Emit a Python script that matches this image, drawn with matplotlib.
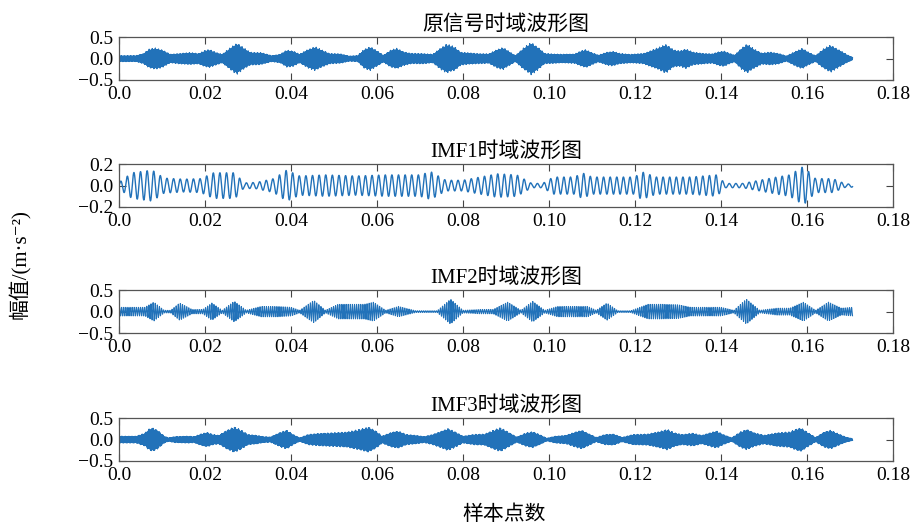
import numpy as np
import matplotlib
matplotlib.use('Agg')
import matplotlib.pyplot as plt

plt.rcParams.update({
    'font.family': ['Liberation Serif', 'Noto Sans CJK SC', 'DejaVu Serif'],
    'axes.unicode_minus': True,
})

# envelope key points (time in s, amplitude in m/s^2)
orig_t = [0.0, 0.004, 0.0057, 0.0070, 0.0084, 0.0100, 0.0119, 0.0140, 0.0165,
          0.0185, 0.0200, 0.0210, 0.0225, 0.0240, 0.0258, 0.0274, 0.0290, 0.0305,
          0.0330, 0.0355, 0.0375, 0.0390, 0.0405, 0.0420, 0.0440, 0.0456, 0.0472,
          0.0490, 0.0515, 0.0535, 0.0555, 0.0570, 0.0584, 0.0600, 0.0615, 0.0632,
          0.0646, 0.0662, 0.0680, 0.0705, 0.0730, 0.0748, 0.0762, 0.0780, 0.0795,
          0.0830, 0.0860, 0.0880, 0.0893, 0.0908, 0.0922, 0.0942, 0.0959, 0.0975,
          0.0990, 0.1030, 0.1060, 0.1075, 0.1086, 0.1100, 0.1115, 0.1135, 0.1148,
          0.1165, 0.1190, 0.1220, 0.1255, 0.1272, 0.1290, 0.1305, 0.1318, 0.1335,
          0.1360, 0.1380, 0.1395, 0.1407, 0.1420, 0.1432, 0.1448, 0.1461, 0.1478,
          0.1495, 0.1515, 0.1535, 0.1552, 0.1575, 0.1589, 0.1605, 0.1620, 0.1640,
          0.1655, 0.1675, 0.1695, 0.1706]
orig_a = [0.07, 0.07, 0.12, 0.22, 0.25, 0.21, 0.10, 0.12, 0.14, 0.12, 0.19, 0.21,
          0.15, 0.10, 0.25, 0.37, 0.25, 0.15, 0.14, 0.07, 0.10, 0.20, 0.18, 0.10,
          0.22, 0.28, 0.20, 0.12, 0.11, 0.06, 0.07, 0.22, 0.28, 0.18, 0.08, 0.20,
          0.24, 0.16, 0.12, 0.12, 0.10, 0.25, 0.34, 0.28, 0.15, 0.12, 0.11, 0.22,
          0.26, 0.16, 0.07, 0.26, 0.38, 0.26, 0.12, 0.10, 0.11, 0.18, 0.21, 0.14,
          0.08, 0.15, 0.17, 0.12, 0.10, 0.12, 0.26, 0.34, 0.20, 0.18, 0.23, 0.15,
          0.12, 0.11, 0.16, 0.18, 0.12, 0.08, 0.25, 0.34, 0.22, 0.13, 0.15, 0.12,
          0.06, 0.18, 0.24, 0.14, 0.07, 0.24, 0.32, 0.20, 0.08, 0.03]

imf1_t = [0.0, 0.003, 0.0077, 0.0105, 0.0150, 0.0190, 0.0220, 0.0270, 0.0290,
          0.0320, 0.0360, 0.0390, 0.0420, 0.0480, 0.0550, 0.0620, 0.0700, 0.0725,
          0.0760, 0.0800, 0.0880, 0.0925, 0.0960, 0.0985, 0.1010, 0.1060, 0.1077,
          0.1100, 0.1200, 0.1215, 0.1250, 0.1330, 0.1390, 0.1410, 0.1450, 0.1530,
          0.1560, 0.1592, 0.1620, 0.1660, 0.1690, 0.1706]
imf1_a = [0.03, 0.12, 0.145, 0.07, 0.06, 0.065, 0.12, 0.12, 0.025, 0.03, 0.065,
          0.145, 0.09, 0.10, 0.09, 0.10, 0.10, 0.13, 0.05, 0.05, 0.11, 0.10, 0.02,
          0.02, 0.08, 0.08, 0.12, 0.08, 0.08, 0.13, 0.08, 0.08, 0.10, 0.02, 0.02,
          0.08, 0.10, 0.18, 0.065, 0.065, 0.015, 0.015]

imf2_t = [0.0, 0.0060, 0.0081, 0.0105, 0.0120, 0.0141, 0.0170, 0.0195, 0.0216,
          0.0240, 0.0268, 0.0296, 0.0330, 0.0370, 0.0400, 0.0420, 0.0453, 0.0480,
          0.0510, 0.0570, 0.0592, 0.0620, 0.0650, 0.0690, 0.0740, 0.0771, 0.0800,
          0.0840, 0.0870, 0.0904, 0.0935, 0.0962, 0.0990, 0.1020, 0.1090, 0.1110,
          0.1135, 0.1160, 0.1190, 0.1230, 0.1260, 0.1300, 0.1330, 0.1400, 0.1430,
          0.1459, 0.1490, 0.1530, 0.1560, 0.1592, 0.1620, 0.1650, 0.1680, 0.1706]
imf2_a = [0.10, 0.10, 0.22, 0.03, 0.03, 0.20, 0.05, 0.05, 0.20, 0.03, 0.24, 0.03,
          0.12, 0.12, 0.10, 0.03, 0.26, 0.03, 0.17, 0.17, 0.22, 0.03, 0.12, 0.02,
          0.02, 0.29, 0.03, 0.05, 0.05, 0.22, 0.03, 0.24, 0.03, 0.12, 0.12, 0.03,
          0.20, 0.02, 0.02, 0.17, 0.17, 0.16, 0.10, 0.10, 0.03, 0.29, 0.03, 0.08,
          0.08, 0.22, 0.03, 0.22, 0.08, 0.10]

imf3_t = [0.0, 0.004, 0.0060, 0.0070, 0.0078, 0.0090, 0.0105, 0.0115, 0.0130,
          0.0160, 0.0175, 0.0192, 0.0205, 0.0218, 0.0232, 0.0250, 0.0268, 0.0285,
          0.0300, 0.0320, 0.0335, 0.0352, 0.0375, 0.0390, 0.0405, 0.0420, 0.0440,
          0.0470, 0.0500, 0.0530, 0.0560, 0.0580, 0.0598, 0.0612, 0.0635, 0.0650,
          0.0668, 0.0690, 0.0710, 0.0730, 0.0750, 0.0765, 0.0782, 0.0800, 0.0825,
          0.0850, 0.0870, 0.0887, 0.0905, 0.0925, 0.0945, 0.0962, 0.0978, 0.0995,
          0.1015, 0.1040, 0.1062, 0.1077, 0.1092, 0.1110, 0.1130, 0.1150, 0.1170,
          0.1195, 0.1230, 0.1260, 0.1275, 0.1292, 0.1310, 0.1335, 0.1355, 0.1378,
          0.1390, 0.1405, 0.1425, 0.1445, 0.1460, 0.1478, 0.1500, 0.1530, 0.1560,
          0.1575, 0.1586, 0.1600, 0.1620, 0.1640, 0.1655, 0.1672, 0.1690, 0.1706]
imf3_a = [0.08, 0.08, 0.15, 0.25, 0.28, 0.22, 0.08, 0.04, 0.07, 0.08, 0.07, 0.14,
          0.17, 0.12, 0.10, 0.22, 0.30, 0.22, 0.12, 0.10, 0.07, 0.06, 0.17, 0.22,
          0.12, 0.04, 0.12, 0.15, 0.16, 0.18, 0.24, 0.30, 0.20, 0.08, 0.18, 0.20,
          0.12, 0.10, 0.07, 0.12, 0.20, 0.26, 0.18, 0.08, 0.12, 0.13, 0.22, 0.28,
          0.18, 0.06, 0.15, 0.19, 0.12, 0.03, 0.08, 0.10, 0.18, 0.22, 0.14, 0.05,
          0.12, 0.13, 0.05, 0.12, 0.13, 0.20, 0.24, 0.16, 0.12, 0.15, 0.10, 0.17,
          0.20, 0.12, 0.04, 0.18, 0.24, 0.16, 0.10, 0.16, 0.18, 0.25, 0.28, 0.18,
          0.05, 0.18, 0.22, 0.14, 0.06, 0.02]

titles = ['原信号时域波形图', 'IMF1时域波形图', 'IMF2时域波形图', 'IMF3时域波形图']
ylims = [0.5, 0.2, 0.5, 0.5]
xtick_vals = [0.0, 0.02, 0.04, 0.06, 0.08, 0.10, 0.12, 0.14, 0.16, 0.18]
xtick_labels = ['0.0', '0.02', '0.04', '0.06', '0.08', '0.10', '0.12', '0.14', '0.16', '0.18']

# carrier (main Hz, side Hz, side weight) drawn under each envelope
carriers = [(4170.0, 9730.0, 0.10), (650.0, 650.0, 0.0),
            (2050.0, 2050.0, 0.0), (4330.0, 9910.0, 0.10)]
line_w = [0.9, 1.0, 0.8, 0.9]

fs = 51200.0
t = np.arange(0, 0.1706, 1 / fs)

envs = [(orig_t, orig_a), (imf1_t, imf1_a), (imf2_t, imf2_a), (imf3_t, imf3_a)]
COLOR = '#2272b9'

fig = plt.figure(figsize=(9.17, 5.28), dpi=100)
bottoms = [0.8485, 0.608, 0.3693, 0.1269]
for i, (et, ea) in enumerate(envs):
    ax = fig.add_axes([0.1298, bottoms[i], 0.844, 0.081])
    env = np.interp(t, et, ea)
    f1, f2, w = carriers[i]
    wave = (1 - w) * np.sin(2 * np.pi * f1 * t) + w * np.sin(2 * np.pi * f2 * t)
    ax.plot(t, env * wave, color=COLOR, linewidth=line_w[i])
    ax.set_xlim(0, 0.18)
    lim = ylims[i]
    ax.set_ylim(-lim, lim)
    ax.set_yticks([-lim, 0, lim])
    ax.set_yticklabels([f'\u2212{lim:.1f}', '0.0', f'{lim:.1f}'])
    ax.set_xticks(xtick_vals)
    ax.set_xticklabels(xtick_labels)
    ax.tick_params(direction='in', top=True, right=True, length=5, width=0.8,
                   color='#444444', labelsize=14, pad=4)
    for s in ax.spines.values():
        s.set_color('#555555')
        s.set_linewidth(0.9)
    ax.set_title(titles[i], fontsize=15, pad=5)

fig.text(0.022, 0.5, '幅值/(m·s\u207b\u00b2)', rotation=90, va='center', ha='center', fontsize=15)
fig.text(0.5497, 0.025, '样本点数', ha='center', va='center', fontsize=15)

fig.savefig('out.png', dpi=100)
